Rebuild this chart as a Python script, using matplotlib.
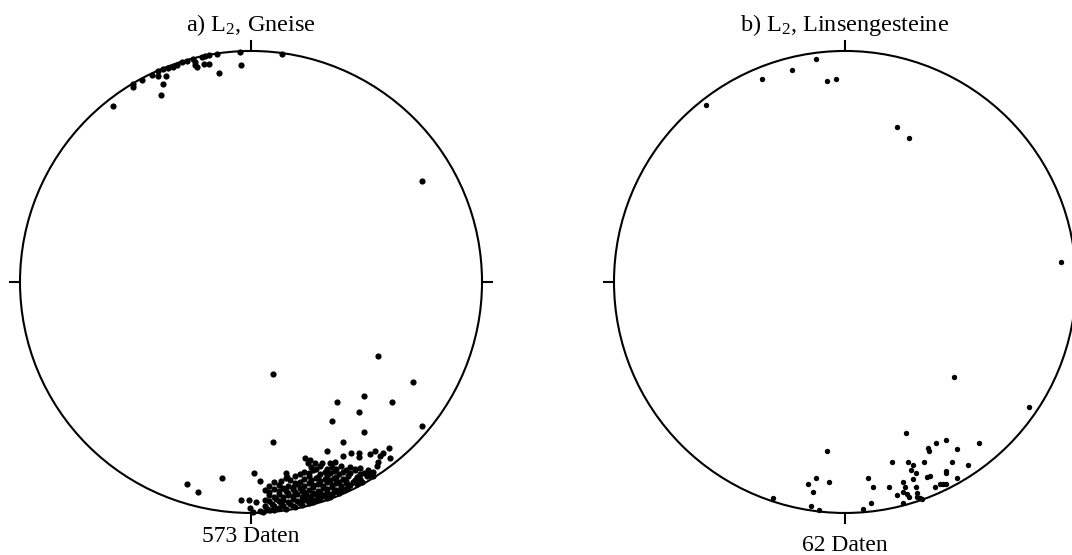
import numpy as np
import matplotlib
matplotlib.use("Agg")
import matplotlib.pyplot as plt
from matplotlib.patches import Circle

plt.rcParams["font.family"] = ["Liberation Serif", "DejaVu Serif"]
plt.rcParams["mathtext.fontset"] = "custom"
plt.rcParams["mathtext.rm"] = "Liberation Serif"
plt.rcParams["mathtext.default"] = "regular"

# Lineation poles, equal-area projection, unit radius (x = east, y = north)
# --- a) Gneise ---
gneiss_north = [
    (-0.597, 0.762), (-0.390, 0.810), (-0.381, 0.857), (-0.403, 0.892),
    (-0.368, 0.892), (-0.403, 0.913), (-0.381, 0.922), (-0.359, 0.926),
    (-0.338, 0.931), (-0.511, 0.844), (-0.511, 0.857), (-0.472, 0.874),
    (-0.299, 0.952), (-0.277, 0.957), (-0.242, 0.952), (-0.242, 0.939),
    (-0.234, 0.931), (-0.203, 0.944), (-0.182, 0.944), (-0.212, 0.974),
    (-0.199, 0.978), (-0.182, 0.983), (-0.147, 0.985), (-0.139, 0.905),
    (-0.048, 0.994), (-0.043, 0.939), (0.134, 0.988), (-0.251, 0.965),
    (-0.320, 0.940), (-0.430, 0.895),
]
gneiss_east = [(0.740, 0.437)]
gneiss_south_scatter = [
    (0.550, -0.320), (0.095, -0.398), (0.701, -0.433), (0.372, -0.519),
    (0.489, -0.494), (0.610, -0.519), (0.468, -0.563), (0.351, -0.602),
    (0.489, -0.649), (0.740, -0.623), (0.095, -0.693), (0.398, -0.693),
    (0.329, -0.732), (0.398, -0.753), (0.433, -0.740), (0.468, -0.740),
    (0.468, -0.758), (0.515, -0.745), (0.537, -0.732), (0.558, -0.753),
    (0.571, -0.740), (0.597, -0.719), (0.602, -0.762), (0.550, -0.779),
    (0.545, -0.797), (-0.277, -0.874), (-0.229, -0.909), (-0.126, -0.848),
    (0.013, -0.827), (0.039, -0.861), (-0.043, -0.944), (-0.009, -0.944),
    (0.022, -0.952), (-0.004, -0.978), (0.009, -0.994), (0.052, -0.994),
    (0.082, -0.985), (0.152, -0.827), (0.156, -0.844), (0.234, -0.762),
    (0.247, -0.784), (0.255, -0.771), (0.277, -0.784), (0.307, -0.784),
    (0.342, -0.784), (0.364, -0.779), (0.506, -0.814), (0.528, -0.823),
]
gneiss_south_cluster = [
    (0.26, -0.800), (0.30, -0.796), (0.35, -0.803), (0.39, -0.798), (0.43, -0.801), (0.47, -0.806),
    (0.23, -0.822), (0.27, -0.815), (0.32, -0.824), (0.36, -0.818), (0.40, -0.822), (0.45, -0.816),
    (0.49, -0.826), (0.52, -0.829),
    (0.19, -0.842), (0.25, -0.838), (0.29, -0.845), (0.33, -0.836), (0.37, -0.843), (0.42, -0.839),
    (0.46, -0.846), (0.50, -0.842), (0.53, -0.838),
    (0.13, -0.862), (0.17, -0.858), (0.21, -0.865), (0.26, -0.857), (0.30, -0.863), (0.34, -0.859),
    (0.38, -0.866), (0.41, -0.861), (0.45, -0.856), (0.48, -0.864),
    (0.08, -0.884), (0.12, -0.878), (0.16, -0.883), (0.20, -0.876), (0.23, -0.885), (0.27, -0.879),
    (0.31, -0.884), (0.35, -0.877), (0.39, -0.882), (0.43, -0.878), (0.46, -0.875),
    (0.06, -0.902), (0.10, -0.897), (0.15, -0.904), (0.18, -0.898), (0.22, -0.905), (0.25, -0.899),
    (0.29, -0.903), (0.33, -0.897), (0.37, -0.902), (0.41, -0.898),
    (0.08, -0.922), (0.12, -0.917), (0.16, -0.924), (0.20, -0.918), (0.24, -0.923), (0.28, -0.916),
    (0.31, -0.922), (0.35, -0.919), (0.38, -0.915),
    (0.06, -0.942), (0.11, -0.938), (0.14, -0.944), (0.18, -0.939), (0.22, -0.943), (0.26, -0.937),
    (0.30, -0.941), (0.33, -0.935),
    (0.09, -0.962), (0.13, -0.958), (0.17, -0.963), (0.21, -0.957), (0.25, -0.955), (0.27, -0.952),
    (0.07, -0.982), (0.12, -0.978), (0.15, -0.981), (0.19, -0.975),
    (0.23, -0.852), (0.28, -0.849), (0.32, -0.853), (0.36, -0.848), (0.40, -0.851),
    (0.19, -0.871), (0.25, -0.869), (0.29, -0.873), (0.33, -0.868), (0.37, -0.872), (0.41, -0.869),
    (0.21, -0.891), (0.27, -0.889), (0.31, -0.893), (0.35, -0.888), (0.39, -0.890),
    (0.19, -0.911), (0.23, -0.909), (0.27, -0.912), (0.33, -0.908), (0.36, -0.910),
    (0.22, -0.931), (0.26, -0.928), (0.29, -0.932),
    (0.28, -0.808), (0.33, -0.811), (0.37, -0.808), (0.41, -0.812), (0.45, -0.809),
    (0.21, -0.832), (0.25, -0.828), (0.30, -0.833), (0.34, -0.829), (0.38, -0.832),
    (0.43, -0.827), (0.47, -0.833), (0.51, -0.834),
    (0.15, -0.850), (0.44, -0.866), (0.47, -0.852),
    (0.10, -0.868), (0.14, -0.891), (0.18, -0.887), (0.42, -0.889),
    (0.08, -0.910), (0.12, -0.906), (0.16, -0.913), (0.30, -0.912), (0.39, -0.905),
    (0.10, -0.930), (0.14, -0.933), (0.18, -0.928), (0.32, -0.926), (0.34, -0.929),
    (0.08, -0.950), (0.12, -0.948), (0.16, -0.952), (0.20, -0.948), (0.24, -0.946), (0.28, -0.945),
    (0.10, -0.971), (0.14, -0.970), (0.18, -0.968), (0.22, -0.966),
    (0.04, -0.990), (0.10, -0.988), (0.06, -0.968),
]

# --- b) Linsengesteine ---
linsen_north = [
    (-0.602, 0.766), (-0.359, 0.879), (-0.229, 0.918), (-0.126, 0.965),
    (-0.078, 0.870), (-0.039, 0.879), (0.225, 0.671), (0.277, 0.623),
]
linsen_east = [(0.935, 0.087), (0.472, -0.411), (0.797, -0.541)]
linsen_south = [
    (0.264, -0.654), (-0.078, -0.732), (0.394, -0.697), (0.437, -0.684),
    (0.580, -0.697), (0.359, -0.719), (0.364, -0.732), (0.485, -0.723),
    (0.203, -0.779), (0.273, -0.779), (0.294, -0.792), (0.342, -0.779),
    (0.463, -0.779), (0.532, -0.792), (0.286, -0.814), (0.307, -0.827),
    (0.437, -0.818), (0.437, -0.827), (0.355, -0.844), (0.368, -0.840),
    (0.294, -0.853), (0.485, -0.848), (-0.126, -0.848), (-0.069, -0.866),
    (-0.160, -0.874), (0.100, -0.848), (0.121, -0.887), (0.190, -0.887),
    (0.251, -0.866), (0.260, -0.887), (0.307, -0.887), (0.390, -0.887),
    (0.411, -0.874), (0.424, -0.874), (0.437, -0.874), (-0.139, -0.909),
    (0.225, -0.922), (0.251, -0.909), (0.268, -0.918), (0.277, -0.931),
    (0.312, -0.913), (0.312, -0.931), (0.325, -0.935), (0.333, -0.939),
    (-0.312, -0.935), (-0.147, -0.970), (-0.113, -0.988), (0.078, -0.983),
    (0.113, -0.957), (0.251, -0.957),
]

gneiss = np.array(gneiss_north + gneiss_east + gneiss_south_scatter + gneiss_south_cluster)
linsen = np.array(linsen_north + linsen_east + linsen_south)


def draw_net(ax, pts, title, label, label_y, dot_size):
    ax.set_xlim(-1.1, 1.1)
    ax.set_ylim(-1.1, 1.1)
    ax.set_aspect("equal")
    ax.axis("off")
    ax.add_patch(Circle((0, 0), 1.0, fill=False, lw=1.5, color="black", clip_on=False))
    t = 0.042
    for dx, dy in [(0, 1), (0, -1), (1, 0), (-1, 0)]:
        ax.plot([dx, dx * (1 + t)], [dy, dy * (1 + t)], color="black", lw=1.5, clip_on=False)
    ax.scatter(pts[:, 0], pts[:, 1], s=dot_size, color="black", linewidths=0, clip_on=False)
    ax.text(0, 1.112, title, ha="center", va="center", fontsize=17.5)
    ax.text(0, label_y, label, ha="center", va="center", fontsize=17)


fig = plt.figure(figsize=(10.72, 5.55), dpi=100)
ax_a = fig.add_axes([-0.0029, 0.0341, 0.4741, 0.9157])
ax_b = fig.add_axes([0.5512, 0.0341, 0.4741, 0.9157])

draw_net(ax_a, gneiss, "a) L$_2$, Gneise", "573 Daten", -1.104, 20)
draw_net(ax_b, linsen, "b) L$_2$, Linsengesteine", "62 Daten", -1.139, 15)

fig.savefig("out.png", dpi=100)
